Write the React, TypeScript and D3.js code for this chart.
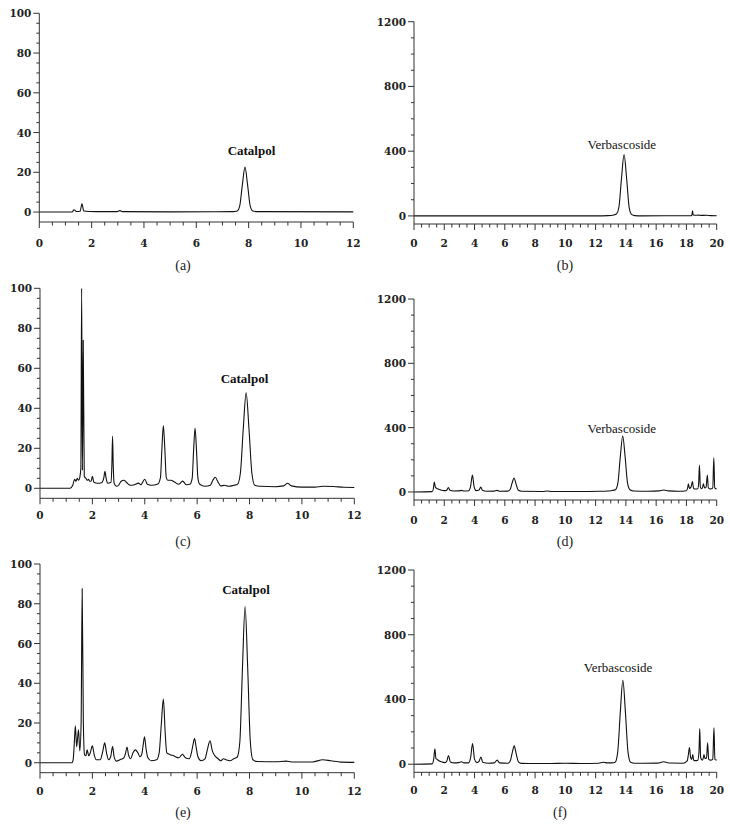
import React from "react";
import * as d3 from "d3";

// ---- tick labels ----
const catYTicks = [0, 20, 40, 60, 80, 100];
const verbYTicks = [0, 400, 800, 1200];
const xTicks12 = [0, 2, 4, 6, 8, 10, 12];
const xTicks20 = [0, 2, 4, 6, 8, 10, 12, 14, 16, 18, 20];

// ---- traces [time (min), response] ----
const traceA: [number, number][] = [
  [0, 0], [1.25, 0], [1.33, 1.2], [1.42, 0.3], [1.56, 0.4], [1.63, 4.2], [1.7, 0.5], [1.9, 0.3],
  [2.5, 0.2], [2.95, 0.2], [3.08, 0.7], [3.2, 0.2], [5, 0.1], [7.4, 0.2], [7.56, 0.5], [7.66, 3.1],
  [7.76, 13.7], [7.86, 22.6], [7.96, 13.7], [8.06, 3.1], [8.16, 0.5], [8.35, 0.2], [12, 0.1],
];

const traceB: [number, number][] = [
  [0, 0], [1, 0.5], [3, 0], [5, 0.5], [7, 0], [10, 0], [12, 0.5], [12.8, 2], [13.2, 6], [13.37, 12],
  [13.54, 55], [13.71, 232], [13.88, 379], [14.05, 230], [14.22, 50], [14.39, 8], [14.6, 2], [15, 0.5],
  [18.3, 1], [18.36, 5], [18.4, 31], [18.45, 6], [18.6, 4], [18.8, 5], [19.0, 3], [19.3, 4], [19.6, 2], [20, 1],
];

const traceC: [number, number][] = [
  [0, 0], [1.15, 0], [1.25, 1.5], [1.32, 4.5], [1.37, 3.5], [1.42, 5], [1.47, 4], [1.52, 5.5], [1.56, 10],
  [1.59, 100], [1.62, 9], [1.65, 74], [1.69, 6], [1.75, 5], [1.8, 4], [1.85, 4.5], [1.9, 3.5], [1.95, 3.5],
  [2.0, 6], [2.06, 3], [2.2, 2.5], [2.35, 2.8], [2.44, 5.5], [2.48, 8.5], [2.52, 5.5], [2.58, 2.5],
  [2.71, 3], [2.745, 12], [2.77, 26], [2.795, 12], [2.83, 2.5], [2.92, 1], [3.0, 1.5], [3.1, 3.5],
  [3.2, 4], [3.3, 3], [3.45, 1.5], [3.6, 1.8], [3.76, 2.6], [3.85, 1.8], [4.0, 4.5], [4.1, 2],
  [4.25, 1.5], [4.5, 2.2], [4.6, 5.5], [4.655, 20], [4.71, 31.4], [4.765, 20], [4.82, 5.5], [4.88, 4],
  [5.0, 4], [5.15, 3], [5.3, 2], [5.45, 3.6], [5.58, 1.8], [5.72, 2], [5.81, 5], [5.865, 19], [5.92, 30.1],
  [5.975, 19], [6.03, 5], [6.1, 2], [6.3, 1], [6.5, 1.5], [6.6, 4], [6.69, 5.5], [6.8, 3], [6.9, 1.2],
  [7.04, 1.5], [7.2, 1], [7.4, 1.5], [7.54, 2], [7.65, 7.5], [7.76, 29.5], [7.87, 47.7], [7.98, 29.5],
  [8.09, 7.5], [8.2, 1.5], [8.4, 1], [9.0, 0.8], [9.3, 1.2], [9.45, 2.5], [9.6, 1.2], [10, 0.6],
  [10.5, 0.6], [10.8, 1], [11.2, 0.9], [11.6, 0.5], [12, 0.4],
];

const traceD: [number, number][] = [
  [0, 0], [1.2, 2], [1.28, 20], [1.34, 62], [1.42, 28], [1.55, 20], [1.75, 13], [2.0, 8], [2.15, 10],
  [2.27, 27], [2.38, 10], [2.6, 6], [2.95, 7], [3.15, 10], [3.3, 6], [3.6, 8], [3.74, 35], [3.86, 105],
  [3.98, 28], [4.1, 8], [4.3, 12], [4.41, 31], [4.52, 10], [4.8, 4], [5.3, 5], [5.49, 10], [5.65, 4],
  [6.2, 5], [6.35, 15], [6.48, 55], [6.61, 87], [6.74, 50], [6.88, 12], [7.1, 4], [8.5, 3], [8.8, 6],
  [9.1, 3], [11, 3], [12.3, 4], [12.8, 6], [13.1, 9], [13.31, 14], [13.47, 55], [13.63, 218], [13.79, 348],
  [13.95, 218], [14.11, 55], [14.27, 14], [14.5, 6], [15.5, 4], [16.2, 7], [16.5, 12], [16.8, 7],
  [17.5, 4], [18.0, 8], [18.08, 25], [18.13, 50], [18.2, 22], [18.3, 30], [18.4, 64], [18.47, 22],
  [18.6, 18], [18.75, 20], [18.81, 60], [18.86, 168], [18.92, 30], [19.0, 20], [19.07, 30], [19.12, 50],
  [19.2, 25], [19.3, 30], [19.38, 105], [19.45, 25], [19.6, 18], [19.74, 25], [19.81, 213], [19.87, 25],
  [20, 18],
];

const traceE: [number, number][] = [
  [0, 0], [1.22, 0], [1.27, 2], [1.31, 10], [1.35, 18.6], [1.4, 8], [1.47, 16.6], [1.52, 6], [1.57, 20],
  [1.61, 87.6], [1.655, 20], [1.7, 4], [1.75, 3.5], [1.8, 6.5], [1.86, 3.5], [1.92, 5], [2.0, 8.5],
  [2.07, 4], [2.15, 1.5], [2.3, 1.5], [2.4, 6], [2.47, 10], [2.54, 5], [2.62, 1.5], [2.7, 3], [2.77, 8.2],
  [2.83, 3], [2.92, 0.8], [3.05, 1.5], [3.2, 2.5], [3.27, 5], [3.32, 7.9], [3.38, 4], [3.46, 2],
  [3.55, 5], [3.64, 6.5], [3.73, 5.2], [3.82, 3], [3.88, 4], [3.94, 9], [3.99, 13], [4.05, 7],
  [4.12, 2.5], [4.25, 1], [4.45, 1.5], [4.55, 5], [4.63, 19], [4.71, 32], [4.78, 15], [4.84, 5],
  [4.95, 4.2], [5.1, 3.5], [5.3, 2.5], [5.44, 4.3], [5.55, 2.5], [5.7, 2], [5.78, 5], [5.84, 9],
  [5.9, 12.2], [5.96, 8], [6.03, 3], [6.15, 1], [6.3, 2], [6.38, 6], [6.49, 11], [6.58, 6], [6.65, 4],
  [6.8, 2], [6.9, 1], [7.0, 2], [7.1, 1.5], [7.25, 1], [7.4, 2], [7.53, 2.9], [7.63, 10.6], [7.73, 47.7],
  [7.83, 78.6], [7.93, 47.7], [8.03, 10.6], [8.13, 1.5], [8.3, 0.6], [9, 0.5], [9.4, 0.8], [9.6, 0.4],
  [10.4, 0.4], [10.8, 1.5], [11.1, 1], [11.5, 0.3], [12, 0.2],
];

const traceF: [number, number][] = [
  [0, 0], [1.2, 2], [1.3, 30], [1.38, 95], [1.45, 35], [1.6, 25], [1.8, 15], [2.05, 10], [2.17, 20],
  [2.28, 54], [2.4, 14], [2.65, 8], [2.95, 10], [3.14, 15], [3.3, 8], [3.6, 8], [3.74, 40], [3.87, 128],
  [4.0, 30], [4.15, 10], [4.3, 18], [4.42, 45], [4.54, 12], [4.9, 6], [5.3, 8], [5.5, 25], [5.65, 8],
  [6.2, 6], [6.36, 20], [6.49, 70], [6.62, 113], [6.75, 65], [6.9, 15], [7.1, 5], [9, 4], [10, 6],
  [11, 4], [12.2, 6], [12.5, 12], [12.8, 8], [13.1, 8], [13.29, 12], [13.46, 75], [13.63, 320],
  [13.8, 519], [13.97, 320], [14.14, 75], [14.31, 12], [14.6, 6], [16.1, 7], [16.5, 15], [16.9, 7],
  [17.8, 6], [18.05, 20], [18.13, 60], [18.2, 103], [18.28, 40], [18.35, 30], [18.42, 60], [18.48, 25],
  [18.6, 22], [18.75, 25], [18.83, 80], [18.88, 220], [18.94, 40], [19.05, 25], [19.12, 40], [19.16, 60],
  [19.22, 35], [19.33, 40], [19.4, 132], [19.47, 30], [19.6, 25], [19.74, 30], [19.82, 225], [19.88, 30],
  [20, 25],
];

const panelNames = ["(a)", "(b)", "(c)", "(d)", "(e)", "(f)"];
const compoundNames = ["Catalpol", "Verbascoside"];

// ---- layout (pixels) ----
type Panel = {
  data: [number, number][];
  xMax: number; xTicks: number[];
  yMin: number; yMax: number; yTicks: number[]; yMinor: number;
  x0: number; x1: number; top: number; bottom: number;
  name: string; nameX: number; nameY: number;
  comp: string; compX: number; compY: number; compBold: boolean;
  xLabOff: number;
};

const panels: Panel[] = [
  { data: traceA, xMax: 12, xTicks: xTicks12, yMin: -5, yMax: 100, yTicks: catYTicks, yMinor: 5,
    x0: 39.3, x1: 353.3, top: 13.3, bottom: 222, name: panelNames[0], nameX: 183, nameY: 265,
    comp: compoundNames[0], compX: 251.5, compY: 155, compBold: true, xLabOff: 21 },
  { data: traceB, xMax: 20, xTicks: xTicks20, yMin: -50, yMax: 1200, yTicks: verbYTicks, yMinor: 100,
    x0: 414, x1: 716.7, top: 21.7, bottom: 224, name: panelNames[1], nameX: 565, nameY: 265,
    comp: compoundNames[1], compX: 621.8, compY: 149, compBold: false, xLabOff: 19 },
  { data: traceC, xMax: 12, xTicks: xTicks12, yMin: -5, yMax: 100, yTicks: catYTicks, yMinor: 5,
    x0: 40, x1: 354.3, top: 288.3, bottom: 498.3, name: panelNames[2], nameX: 183, nameY: 541.7,
    comp: compoundNames[0], compX: 244.5, compY: 383.3, compBold: true, xLabOff: 17 },
  { data: traceD, xMax: 20, xTicks: xTicks20, yMin: -50, yMax: 1200, yTicks: verbYTicks, yMinor: 100,
    x0: 414, x1: 716.7, top: 299, bottom: 500, name: panelNames[3], nameX: 565, nameY: 541.7,
    comp: compoundNames[1], compX: 621.8, compY: 432.7, compBold: false, xLabOff: 20 },
  { data: traceE, xMax: 12, xTicks: xTicks12, yMin: -5, yMax: 100, yTicks: catYTicks, yMinor: 5,
    x0: 40, x1: 354.3, top: 564, bottom: 772.7, name: panelNames[4], nameX: 183, nameY: 812.3,
    comp: compoundNames[0], compX: 246, compY: 594.3, compBold: true, xLabOff: 18 },
  { data: traceF, xMax: 20, xTicks: xTicks20, yMin: -50, yMax: 1200, yTicks: verbYTicks, yMinor: 100,
    x0: 414, x1: 716.7, top: 570, bottom: 772.3, name: panelNames[5], nameX: 560, nameY: 812,
    comp: compoundNames[1], compX: 618, compY: 671.7, compBold: false, xLabOff: 18 },
];

const FONT = "'Liberation Serif', 'Times New Roman', serif";
const TICKFONT = "'DejaVu Serif', serif";
const AX = "#333";

function ChartPanel({ p }: { p: Panel }) {
  const x = d3.scaleLinear().domain([0, p.xMax]).range([p.x0, p.x1]);
  const y = d3.scaleLinear().domain([p.yMin, p.yMax]).range([p.bottom, p.top]);
  const line = d3
    .line<[number, number]>()
    .x((d) => x(d[0]))
    .y((d) => y(d[1]))
    .curve(d3.curveMonotoneX);
  const xMinor = d3.range(0, p.xMax + 1e-9, 0.5).filter((v) => !p.xTicks.includes(v));
  const yMinor = d3.range(0, p.yMax + 1e-9, p.yMinor).filter((v) => !p.yTicks.includes(v));
  const ax = x(0);
  const ay = y(p.yMin);
  return (
    <g>
      <path d={line(p.data) || ""} fill="none" stroke="#111" strokeWidth={1.1} strokeLinejoin="round" />
      <line x1={ax} x2={ax} y1={y(p.yMax)} y2={ay} stroke={AX} strokeWidth={1} />
      <line x1={ax} x2={x(p.xMax)} y1={ay} y2={ay} stroke={AX} strokeWidth={1} />
      {p.yTicks.map((t) => (
        <g key={"yt" + t}>
          <line x1={ax - 6} x2={ax} y1={y(t)} y2={y(t)} stroke={AX} strokeWidth={1} />
          <text x={ax - 8} y={y(t)} textAnchor="end" dominantBaseline="central"
            fontFamily={TICKFONT} fontWeight="bold" fontSize={10.5} fill="#222">{t}</text>
        </g>
      ))}
      {yMinor.map((t) => (
        <line key={"ym" + t} x1={ax - 3} x2={ax} y1={y(t)} y2={y(t)} stroke={AX} strokeWidth={1} />
      ))}
      {p.xTicks.map((t) => (
        <g key={"xt" + t}>
          <line x1={x(t)} x2={x(t)} y1={ay} y2={ay + 6} stroke={AX} strokeWidth={1} />
          <text x={x(t)} y={ay + p.xLabOff} textAnchor="middle" dominantBaseline="central"
            fontFamily={TICKFONT} fontWeight="bold" fontSize={10.5} fill="#222">{t}</text>
        </g>
      ))}
      {xMinor.map((t) => (
        <line key={"xm" + t} x1={x(t)} x2={x(t)} y1={ay} y2={ay + 3.5} stroke={AX} strokeWidth={1} />
      ))}
      <text x={p.compX} y={p.compY} textAnchor="middle" fontFamily={FONT}
        fontWeight={p.compBold ? "bold" : "normal"} fontSize={13} fill="#111">{p.comp}</text>
      <text x={p.nameX} y={p.nameY} textAnchor="middle" dominantBaseline="central"
        fontFamily={FONT} fontSize={14} fill="#222">{p.name}</text>
    </g>
  );
}

export default function App() {
  return (
    <svg width={730} height={838} viewBox="0 0 730 838"
      style={{ position: "absolute", left: 0, top: 0, background: "#fff" }}>
      <rect x={0} y={0} width={730} height={838} fill="#fff" />
      {panels.map((p, i) => (
        <ChartPanel key={i} p={p} />
      ))}
    </svg>
  );
}
